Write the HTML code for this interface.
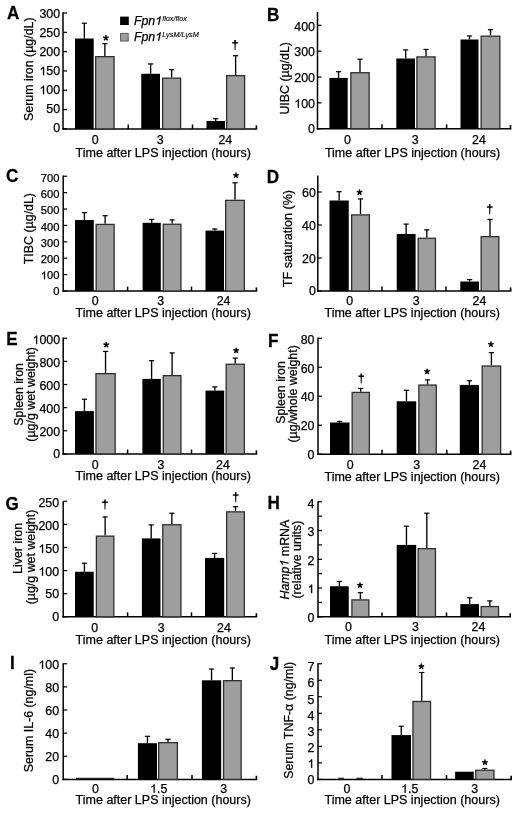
<!DOCTYPE html>
<html><head><meta charset="utf-8"><style>
html,body{margin:0;padding:0;background:#fff;}
svg{display:block;}
text{font-family:"Liberation Sans",sans-serif;fill:#000;stroke:#000;stroke-width:0.25px;}
</style></head><body>
<div style="will-change:transform"><svg width="520" height="813" viewBox="0 0 520 813">
<rect width="520" height="813" fill="#fff"/>
<line x1="63" y1="12.3" x2="63" y2="129.65" stroke="#000" stroke-width="1.5"/>
<line x1="62.25" y1="128.9" x2="257.2" y2="128.9" stroke="#000" stroke-width="1.5"/>
<line x1="256.4" y1="128.9" x2="256.4" y2="125.30000000000001" stroke="#000" stroke-width="1.6"/>
<line x1="128.25" y1="128.9" x2="128.25" y2="124.5" stroke="#000" stroke-width="1.5"/>
<line x1="192.5" y1="128.9" x2="192.5" y2="124.5" stroke="#000" stroke-width="1.5"/>
<line x1="63" y1="128.9" x2="67" y2="128.9" stroke="#000" stroke-width="1.2"/>
<text x="53.25" y="132.2" font-size="12.4">0</text>
<line x1="63" y1="109.58" x2="67" y2="109.58" stroke="#000" stroke-width="1.2"/>
<text x="46.36" y="113.2" font-size="12.4">5</text>
<text x="53.25" y="113.2" font-size="12.4">0</text>
<line x1="63" y1="90.27" x2="67" y2="90.27" stroke="#000" stroke-width="1.2"/>
<path d="M763 0H583V1098Q518 1038 412 979Q307 920 223 890V1057Q374 1125 487 1221Q600 1318 647 1409H763Z" transform="translate(39.46,94.2) scale(0.00605,-0.00605)" fill="#000" stroke="#000" stroke-width="41.3"/>
<text x="46.36" y="94.2" font-size="12.4">0</text>
<text x="53.25" y="94.2" font-size="12.4">0</text>
<line x1="63" y1="70.95" x2="67" y2="70.95" stroke="#000" stroke-width="1.2"/>
<path d="M763 0H583V1098Q518 1038 412 979Q307 920 223 890V1057Q374 1125 487 1221Q600 1318 647 1409H763Z" transform="translate(39.46,75.2) scale(0.00605,-0.00605)" fill="#000" stroke="#000" stroke-width="41.3"/>
<text x="46.36" y="75.2" font-size="12.4">5</text>
<text x="53.25" y="75.2" font-size="12.4">0</text>
<line x1="63" y1="51.63" x2="67" y2="51.63" stroke="#000" stroke-width="1.2"/>
<text x="39.46" y="56.2" font-size="12.4">2</text>
<text x="46.36" y="56.2" font-size="12.4">0</text>
<text x="53.25" y="56.2" font-size="12.4">0</text>
<line x1="63" y1="32.32" x2="67" y2="32.32" stroke="#000" stroke-width="1.2"/>
<text x="39.46" y="37.2" font-size="12.4">2</text>
<text x="46.36" y="37.2" font-size="12.4">5</text>
<text x="53.25" y="37.2" font-size="12.4">0</text>
<line x1="63" y1="13.0" x2="67" y2="13.0" stroke="#000" stroke-width="1.2"/>
<text x="39.46" y="18.2" font-size="12.4">3</text>
<text x="46.36" y="18.2" font-size="12.4">0</text>
<text x="53.25" y="18.2" font-size="12.4">0</text>
<line x1="84.35" y1="23" x2="84.35" y2="38.5" stroke="#000" stroke-width="1.35"/>
<line x1="81.75" y1="23.2" x2="86.94999999999999" y2="23.2" stroke="#000" stroke-width="1.2"/>
<rect x="75.00" y="38.50" width="18.70" height="90.40" fill="#000"/>
<line x1="104.85" y1="43.4" x2="104.85" y2="56" stroke="#000" stroke-width="1.35"/>
<line x1="102.25" y1="43.6" x2="107.44999999999999" y2="43.6" stroke="#000" stroke-width="1.2"/>
<rect x="95.65" y="56.65" width="18.40" height="72.25" fill="#9e9e9e" stroke="#2e2e2e" stroke-width="1.3"/>
<line x1="150.625" y1="63.75" x2="150.625" y2="73.75" stroke="#000" stroke-width="1.35"/>
<line x1="148.025" y1="63.95" x2="153.225" y2="63.95" stroke="#000" stroke-width="1.2"/>
<rect x="141.25" y="73.75" width="18.75" height="55.15" fill="#000"/>
<line x1="171.625" y1="69.5" x2="171.625" y2="77.5" stroke="#000" stroke-width="1.35"/>
<line x1="169.025" y1="69.7" x2="174.225" y2="69.7" stroke="#000" stroke-width="1.2"/>
<rect x="162.65" y="78.15" width="17.95" height="50.75" fill="#9e9e9e" stroke="#2e2e2e" stroke-width="1.3"/>
<line x1="215.75" y1="118.5" x2="215.75" y2="121" stroke="#000" stroke-width="1.35"/>
<line x1="213.15" y1="118.7" x2="218.35" y2="118.7" stroke="#000" stroke-width="1.2"/>
<rect x="206.50" y="121.00" width="18.50" height="7.90" fill="#000"/>
<line x1="235.625" y1="55.5" x2="235.625" y2="75" stroke="#000" stroke-width="1.35"/>
<line x1="233.025" y1="55.7" x2="238.225" y2="55.7" stroke="#000" stroke-width="1.2"/>
<rect x="226.65" y="75.65" width="17.95" height="53.25" fill="#9e9e9e" stroke="#2e2e2e" stroke-width="1.3"/>
<text x="91.75" y="143.7" font-size="12.4">0</text>
<text x="156.85" y="143.7" font-size="12.4">3</text>
<text x="218.40" y="143.7" font-size="12.4">2</text>
<text x="225.30" y="143.7" font-size="12.4">4</text>
<text x="75.6" y="156.6" font-size="12.5" text-anchor="start" font-weight="normal" font-style="normal">Time after LPS injection (hours)</text>
<text x="0" y="0" font-size="12.4" text-anchor="middle" transform="translate(33.2,69.2) rotate(-90)">Serum iron (µg/dL)</text>
<text x="0" y="0" font-size="18" font-weight="bold" transform="translate(6.9,19.2) scale(0.95,1)">A</text>
<path d="M105.85,37.85L105.85,35.50M105.85,37.85L108.08,37.12M105.85,37.85L107.23,39.75M105.85,37.85L104.47,39.75M105.85,37.85L103.62,37.12" stroke="#000" stroke-width="1.5" stroke-linecap="round" fill="none"/>
<path d="M234.30,40.05L235.90,40.05L235.55,50.05L234.65,50.05Z" fill="#000"/>
<rect x="232.20" y="42.15" width="5.8" height="1.4" fill="#000"/>
<line x1="317.5" y1="11.9" x2="317.5" y2="129.45" stroke="#000" stroke-width="1.5"/>
<line x1="316.75" y1="128.7" x2="511.3" y2="128.7" stroke="#000" stroke-width="1.5"/>
<line x1="510.5" y1="128.7" x2="510.5" y2="125.1" stroke="#000" stroke-width="1.6"/>
<line x1="382" y1="128.7" x2="382" y2="124.29999999999998" stroke="#000" stroke-width="1.5"/>
<line x1="446.6" y1="128.7" x2="446.6" y2="124.29999999999998" stroke="#000" stroke-width="1.5"/>
<line x1="317.5" y1="128.7" x2="321.5" y2="128.7" stroke="#000" stroke-width="1.2"/>
<text x="308.05" y="133.4" font-size="12.4">0</text>
<line x1="317.5" y1="102.85" x2="321.5" y2="102.85" stroke="#000" stroke-width="1.2"/>
<path d="M763 0H583V1098Q518 1038 412 979Q307 920 223 890V1057Q374 1125 487 1221Q600 1318 647 1409H763Z" transform="translate(294.26,107.71) scale(0.00605,-0.00605)" fill="#000" stroke="#000" stroke-width="41.3"/>
<text x="301.16" y="107.71" font-size="12.4">0</text>
<text x="308.05" y="107.71" font-size="12.4">0</text>
<line x1="317.5" y1="77.0" x2="321.5" y2="77.0" stroke="#000" stroke-width="1.2"/>
<text x="294.26" y="82.03" font-size="12.4">2</text>
<text x="301.16" y="82.03" font-size="12.4">0</text>
<text x="308.05" y="82.03" font-size="12.4">0</text>
<line x1="317.5" y1="51.15" x2="321.5" y2="51.15" stroke="#000" stroke-width="1.2"/>
<text x="294.26" y="56.34" font-size="12.4">3</text>
<text x="301.16" y="56.34" font-size="12.4">0</text>
<text x="308.05" y="56.34" font-size="12.4">0</text>
<line x1="317.5" y1="25.3" x2="321.5" y2="25.3" stroke="#000" stroke-width="1.2"/>
<text x="294.26" y="30.65" font-size="12.4">4</text>
<text x="301.16" y="30.65" font-size="12.4">0</text>
<text x="308.05" y="30.65" font-size="12.4">0</text>
<line x1="338.54999999999995" y1="71.5" x2="338.54999999999995" y2="77.9" stroke="#000" stroke-width="1.35"/>
<line x1="335.94999999999993" y1="71.7" x2="341.15" y2="71.7" stroke="#000" stroke-width="1.2"/>
<rect x="329.40" y="77.90" width="18.30" height="50.80" fill="#000"/>
<line x1="360.0" y1="59" x2="360.0" y2="72.1" stroke="#000" stroke-width="1.35"/>
<line x1="357.4" y1="59.2" x2="362.6" y2="59.2" stroke="#000" stroke-width="1.2"/>
<rect x="350.85" y="72.75" width="18.30" height="55.95" fill="#9e9e9e" stroke="#2e2e2e" stroke-width="1.3"/>
<line x1="405.65" y1="49.75" x2="405.65" y2="58.5" stroke="#000" stroke-width="1.35"/>
<line x1="403.04999999999995" y1="49.95" x2="408.25" y2="49.95" stroke="#000" stroke-width="1.2"/>
<rect x="396.30" y="58.50" width="18.70" height="70.20" fill="#000"/>
<line x1="426.0" y1="49.25" x2="426.0" y2="56.25" stroke="#000" stroke-width="1.35"/>
<line x1="423.4" y1="49.45" x2="428.6" y2="49.45" stroke="#000" stroke-width="1.2"/>
<rect x="416.90" y="56.90" width="18.20" height="71.80" fill="#9e9e9e" stroke="#2e2e2e" stroke-width="1.3"/>
<line x1="469.5" y1="35.75" x2="469.5" y2="39.5" stroke="#000" stroke-width="1.35"/>
<line x1="466.9" y1="35.95" x2="472.1" y2="35.95" stroke="#000" stroke-width="1.2"/>
<rect x="460.50" y="39.50" width="18.00" height="89.20" fill="#000"/>
<line x1="490.5" y1="29.5" x2="490.5" y2="35.5" stroke="#000" stroke-width="1.35"/>
<line x1="487.9" y1="29.7" x2="493.1" y2="29.7" stroke="#000" stroke-width="1.2"/>
<rect x="481.15" y="36.15" width="18.70" height="92.55" fill="#9e9e9e" stroke="#2e2e2e" stroke-width="1.3"/>
<text x="344.05" y="143.8" font-size="12.4">0</text>
<text x="411.80" y="143.8" font-size="12.4">3</text>
<text x="472.10" y="143.8" font-size="12.4">2</text>
<text x="479.00" y="143.8" font-size="12.4">4</text>
<text x="324.9" y="156.6" font-size="12.5" text-anchor="start" font-weight="normal" font-style="normal">Time after LPS injection (hours)</text>
<text x="0" y="0" font-size="12.4" text-anchor="middle" transform="translate(288.6,78.3) rotate(-90)">UIBC (µg/dL)</text>
<text x="0" y="0" font-size="18" font-weight="bold" transform="translate(267,20.6) scale(0.95,1)">B</text>
<line x1="63.2" y1="175.5" x2="63.2" y2="291.75" stroke="#000" stroke-width="1.5"/>
<line x1="62.45" y1="291.0" x2="257.2" y2="291.0" stroke="#000" stroke-width="1.5"/>
<line x1="256.4" y1="291.0" x2="256.4" y2="287.4" stroke="#000" stroke-width="1.6"/>
<line x1="127.6" y1="291.0" x2="127.6" y2="286.6" stroke="#000" stroke-width="1.5"/>
<line x1="191.5" y1="291.0" x2="191.5" y2="286.6" stroke="#000" stroke-width="1.5"/>
<line x1="63.2" y1="291.0" x2="67.2" y2="291.0" stroke="#000" stroke-width="1.2"/>
<text x="53.32" y="295.45" font-size="11.2">0</text>
<line x1="63.2" y1="274.61" x2="67.2" y2="274.61" stroke="#000" stroke-width="1.2"/>
<path d="M763 0H583V1098Q518 1038 412 979Q307 920 223 890V1057Q374 1125 487 1221Q600 1318 647 1409H763Z" transform="translate(40.86,279.25) scale(0.00547,-0.00547)" fill="#000" stroke="#000" stroke-width="45.7"/>
<text x="47.09" y="279.25" font-size="11.2">0</text>
<text x="53.32" y="279.25" font-size="11.2">0</text>
<line x1="63.2" y1="258.21" x2="67.2" y2="258.21" stroke="#000" stroke-width="1.2"/>
<text x="40.86" y="263.03" font-size="11.2">2</text>
<text x="47.09" y="263.03" font-size="11.2">0</text>
<text x="53.32" y="263.03" font-size="11.2">0</text>
<line x1="63.2" y1="241.82" x2="67.2" y2="241.82" stroke="#000" stroke-width="1.2"/>
<text x="40.86" y="246.83" font-size="11.2">3</text>
<text x="47.09" y="246.83" font-size="11.2">0</text>
<text x="53.32" y="246.83" font-size="11.2">0</text>
<line x1="63.2" y1="225.43" x2="67.2" y2="225.43" stroke="#000" stroke-width="1.2"/>
<text x="40.86" y="230.62" font-size="11.2">4</text>
<text x="47.09" y="230.62" font-size="11.2">0</text>
<text x="53.32" y="230.62" font-size="11.2">0</text>
<line x1="63.2" y1="209.04" x2="67.2" y2="209.04" stroke="#000" stroke-width="1.2"/>
<text x="40.86" y="214.42" font-size="11.2">5</text>
<text x="47.09" y="214.42" font-size="11.2">0</text>
<text x="53.32" y="214.42" font-size="11.2">0</text>
<line x1="63.2" y1="192.64" x2="67.2" y2="192.64" stroke="#000" stroke-width="1.2"/>
<text x="40.86" y="198.2" font-size="11.2">6</text>
<text x="47.09" y="198.2" font-size="11.2">0</text>
<text x="53.32" y="198.2" font-size="11.2">0</text>
<line x1="63.2" y1="176.25" x2="67.2" y2="176.25" stroke="#000" stroke-width="1.2"/>
<text x="40.86" y="182.0" font-size="11.2">7</text>
<text x="47.09" y="182.0" font-size="11.2">0</text>
<text x="53.32" y="182.0" font-size="11.2">0</text>
<line x1="84.4" y1="212.5" x2="84.4" y2="220" stroke="#000" stroke-width="1.35"/>
<line x1="81.80000000000001" y1="212.7" x2="87.0" y2="212.7" stroke="#000" stroke-width="1.2"/>
<rect x="75.00" y="220.00" width="18.80" height="71.00" fill="#000"/>
<line x1="105.15" y1="215.5" x2="105.15" y2="223.75" stroke="#000" stroke-width="1.35"/>
<line x1="102.55000000000001" y1="215.7" x2="107.75" y2="215.7" stroke="#000" stroke-width="1.2"/>
<rect x="96.15" y="224.40" width="18.00" height="66.60" fill="#9e9e9e" stroke="#2e2e2e" stroke-width="1.3"/>
<line x1="151.7" y1="219.2" x2="151.7" y2="222.8" stroke="#000" stroke-width="1.35"/>
<line x1="149.1" y1="219.39999999999998" x2="154.29999999999998" y2="219.39999999999998" stroke="#000" stroke-width="1.2"/>
<rect x="142.60" y="222.80" width="18.20" height="68.20" fill="#000"/>
<line x1="172.1" y1="219.7" x2="172.1" y2="223.6" stroke="#000" stroke-width="1.35"/>
<line x1="169.5" y1="219.89999999999998" x2="174.7" y2="219.89999999999998" stroke="#000" stroke-width="1.2"/>
<rect x="163.25" y="224.25" width="17.70" height="66.75" fill="#9e9e9e" stroke="#2e2e2e" stroke-width="1.3"/>
<line x1="214.75" y1="228.8" x2="214.75" y2="230.6" stroke="#000" stroke-width="1.35"/>
<line x1="212.15" y1="229.0" x2="217.35" y2="229.0" stroke="#000" stroke-width="1.2"/>
<rect x="205.50" y="230.60" width="18.50" height="60.40" fill="#000"/>
<line x1="235.0" y1="182.6" x2="235.0" y2="199.7" stroke="#000" stroke-width="1.35"/>
<line x1="232.4" y1="182.79999999999998" x2="237.6" y2="182.79999999999998" stroke="#000" stroke-width="1.2"/>
<rect x="225.65" y="200.35" width="18.70" height="90.65" fill="#9e9e9e" stroke="#2e2e2e" stroke-width="1.3"/>
<text x="91.75" y="304.9" font-size="12.4">0</text>
<text x="157.35" y="304.9" font-size="12.4">3</text>
<text x="216.70" y="304.9" font-size="12.4">2</text>
<text x="223.60" y="304.9" font-size="12.4">4</text>
<text x="75.6" y="317.2" font-size="12.5" text-anchor="start" font-weight="normal" font-style="normal">Time after LPS injection (hours)</text>
<text x="0" y="0" font-size="12.4" text-anchor="middle" transform="translate(32.6,228.6) rotate(-90)">TIBC (µg/dL)</text>
<text x="0" y="0" font-size="18" font-weight="bold" transform="translate(5.9,181.85) scale(0.95,1)">C</text>
<path d="M236.00,175.40L236.00,173.05M236.00,175.40L238.23,174.67M236.00,175.40L237.38,177.30M236.00,175.40L234.62,177.30M236.00,175.40L233.77,174.67" stroke="#000" stroke-width="1.5" stroke-linecap="round" fill="none"/>
<line x1="317.8" y1="175.5" x2="317.8" y2="291.75" stroke="#000" stroke-width="1.5"/>
<line x1="317.05" y1="291.0" x2="511.4" y2="291.0" stroke="#000" stroke-width="1.5"/>
<line x1="510.59999999999997" y1="291.0" x2="510.59999999999997" y2="287.4" stroke="#000" stroke-width="1.6"/>
<line x1="382" y1="291.0" x2="382" y2="286.6" stroke="#000" stroke-width="1.5"/>
<line x1="446" y1="291.0" x2="446" y2="286.6" stroke="#000" stroke-width="1.5"/>
<line x1="317.8" y1="291.0" x2="321.8" y2="291.0" stroke="#000" stroke-width="1.2"/>
<text x="308.95" y="295.45" font-size="12.4">0</text>
<line x1="317.8" y1="258.0" x2="321.8" y2="258.0" stroke="#000" stroke-width="1.2"/>
<text x="302.06" y="262.78" font-size="12.4">2</text>
<text x="308.95" y="262.78" font-size="12.4">0</text>
<line x1="317.8" y1="225.0" x2="321.8" y2="225.0" stroke="#000" stroke-width="1.2"/>
<text x="302.06" y="230.12" font-size="12.4">4</text>
<text x="308.95" y="230.12" font-size="12.4">0</text>
<line x1="317.8" y1="192.0" x2="321.8" y2="192.0" stroke="#000" stroke-width="1.2"/>
<text x="302.06" y="197.45" font-size="12.4">6</text>
<text x="308.95" y="197.45" font-size="12.4">0</text>
<line x1="339.125" y1="191.5" x2="339.125" y2="200.5" stroke="#000" stroke-width="1.35"/>
<line x1="336.525" y1="191.7" x2="341.725" y2="191.7" stroke="#000" stroke-width="1.2"/>
<rect x="329.50" y="200.50" width="19.25" height="90.50" fill="#000"/>
<line x1="360.5" y1="198.75" x2="360.5" y2="214.25" stroke="#000" stroke-width="1.35"/>
<line x1="357.9" y1="198.95" x2="363.1" y2="198.95" stroke="#000" stroke-width="1.2"/>
<rect x="351.65" y="214.90" width="17.70" height="76.10" fill="#9e9e9e" stroke="#2e2e2e" stroke-width="1.3"/>
<line x1="406.15" y1="223.9" x2="406.15" y2="234" stroke="#000" stroke-width="1.35"/>
<line x1="403.54999999999995" y1="224.1" x2="408.75" y2="224.1" stroke="#000" stroke-width="1.2"/>
<rect x="396.70" y="234.00" width="18.90" height="57.00" fill="#000"/>
<line x1="426.8" y1="229.6" x2="426.8" y2="237.6" stroke="#000" stroke-width="1.35"/>
<line x1="424.2" y1="229.79999999999998" x2="429.40000000000003" y2="229.79999999999998" stroke="#000" stroke-width="1.2"/>
<rect x="418.15" y="238.25" width="17.30" height="52.75" fill="#9e9e9e" stroke="#2e2e2e" stroke-width="1.3"/>
<line x1="469.65" y1="279.4" x2="469.65" y2="281.5" stroke="#000" stroke-width="1.35"/>
<line x1="467.04999999999995" y1="279.59999999999997" x2="472.25" y2="279.59999999999997" stroke="#000" stroke-width="1.2"/>
<rect x="460.30" y="281.50" width="18.70" height="9.50" fill="#000"/>
<line x1="490.0" y1="219.2" x2="490.0" y2="236" stroke="#000" stroke-width="1.35"/>
<line x1="487.4" y1="219.39999999999998" x2="492.6" y2="219.39999999999998" stroke="#000" stroke-width="1.2"/>
<rect x="481.15" y="236.65" width="17.70" height="54.35" fill="#9e9e9e" stroke="#2e2e2e" stroke-width="1.3"/>
<text x="346.15" y="305" font-size="12.4">0</text>
<text x="412.65" y="305" font-size="12.4">3</text>
<text x="472.60" y="305" font-size="12.4">2</text>
<text x="479.50" y="305" font-size="12.4">4</text>
<text x="324.5" y="316.8" font-size="12.5" text-anchor="start" font-weight="normal" font-style="normal">Time after LPS injection (hours)</text>
<text x="0" y="0" font-size="12.6" text-anchor="middle" transform="translate(292.0,238.6) rotate(-90)">TF saturation (%)</text>
<text x="0" y="0" font-size="18" font-weight="bold" transform="translate(266.8,183.2) scale(0.95,1)">D</text>
<path d="M359.50,192.30L359.50,189.95M359.50,192.30L361.73,191.57M359.50,192.30L360.88,194.20M359.50,192.30L358.12,194.20M359.50,192.30L357.27,191.57" stroke="#000" stroke-width="1.5" stroke-linecap="round" fill="none"/>
<path d="M488.95,204.25L490.55,204.25L490.20,214.25L489.30,214.25Z" fill="#000"/>
<rect x="486.85" y="206.35" width="5.8" height="1.4" fill="#000"/>
<line x1="63.2" y1="337.5" x2="63.2" y2="454.65" stroke="#000" stroke-width="1.5"/>
<line x1="62.45" y1="453.9" x2="257.2" y2="453.9" stroke="#000" stroke-width="1.5"/>
<line x1="256.4" y1="453.9" x2="256.4" y2="450.29999999999995" stroke="#000" stroke-width="1.6"/>
<line x1="127.6" y1="453.9" x2="127.6" y2="449.5" stroke="#000" stroke-width="1.5"/>
<line x1="191.5" y1="453.9" x2="191.5" y2="449.5" stroke="#000" stroke-width="1.5"/>
<line x1="63.2" y1="453.9" x2="67.2" y2="453.9" stroke="#000" stroke-width="1.2"/>
<text x="53.25" y="458.45" font-size="12.4">0</text>
<line x1="63.2" y1="430.77" x2="67.2" y2="430.77" stroke="#000" stroke-width="1.2"/>
<text x="39.46" y="435.56" font-size="12.4">2</text>
<text x="46.36" y="435.56" font-size="12.4">0</text>
<text x="53.25" y="435.56" font-size="12.4">0</text>
<line x1="63.2" y1="407.64" x2="67.2" y2="407.64" stroke="#000" stroke-width="1.2"/>
<text x="39.46" y="412.67" font-size="12.4">4</text>
<text x="46.36" y="412.67" font-size="12.4">0</text>
<text x="53.25" y="412.67" font-size="12.4">0</text>
<line x1="63.2" y1="384.51" x2="67.2" y2="384.51" stroke="#000" stroke-width="1.2"/>
<text x="39.46" y="389.78" font-size="12.4">6</text>
<text x="46.36" y="389.78" font-size="12.4">0</text>
<text x="53.25" y="389.78" font-size="12.4">0</text>
<line x1="63.2" y1="361.38" x2="67.2" y2="361.38" stroke="#000" stroke-width="1.2"/>
<text x="39.46" y="366.89" font-size="12.4">8</text>
<text x="46.36" y="366.89" font-size="12.4">0</text>
<text x="53.25" y="366.89" font-size="12.4">0</text>
<line x1="63.2" y1="338.25" x2="67.2" y2="338.25" stroke="#000" stroke-width="1.2"/>
<path d="M763 0H583V1098Q518 1038 412 979Q307 920 223 890V1057Q374 1125 487 1221Q600 1318 647 1409H763Z" transform="translate(32.56,344.0) scale(0.00605,-0.00605)" fill="#000" stroke="#000" stroke-width="41.3"/>
<text x="39.46" y="344.0" font-size="12.4">0</text>
<text x="46.36" y="344.0" font-size="12.4">0</text>
<text x="53.25" y="344.0" font-size="12.4">0</text>
<line x1="84.45" y1="399" x2="84.45" y2="411.1" stroke="#000" stroke-width="1.35"/>
<line x1="81.85000000000001" y1="399.2" x2="87.05" y2="399.2" stroke="#000" stroke-width="1.2"/>
<rect x="75.00" y="411.10" width="18.90" height="42.80" fill="#000"/>
<line x1="105.55" y1="351.25" x2="105.55" y2="373" stroke="#000" stroke-width="1.35"/>
<line x1="102.95" y1="351.45" x2="108.14999999999999" y2="351.45" stroke="#000" stroke-width="1.2"/>
<rect x="95.95" y="373.65" width="19.20" height="80.25" fill="#9e9e9e" stroke="#2e2e2e" stroke-width="1.3"/>
<line x1="151.60000000000002" y1="360.5" x2="151.60000000000002" y2="378.9" stroke="#000" stroke-width="1.35"/>
<line x1="149.00000000000003" y1="360.7" x2="154.20000000000002" y2="360.7" stroke="#000" stroke-width="1.2"/>
<rect x="142.40" y="378.90" width="18.40" height="75.00" fill="#000"/>
<line x1="172.1" y1="352.7" x2="172.1" y2="375" stroke="#000" stroke-width="1.35"/>
<line x1="169.5" y1="352.9" x2="174.7" y2="352.9" stroke="#000" stroke-width="1.2"/>
<rect x="163.25" y="375.65" width="17.70" height="78.25" fill="#9e9e9e" stroke="#2e2e2e" stroke-width="1.3"/>
<line x1="214.85" y1="386.7" x2="214.85" y2="390.6" stroke="#000" stroke-width="1.35"/>
<line x1="212.25" y1="386.9" x2="217.45" y2="386.9" stroke="#000" stroke-width="1.2"/>
<rect x="205.50" y="390.60" width="18.70" height="63.30" fill="#000"/>
<line x1="235.25" y1="357.9" x2="235.25" y2="363.6" stroke="#000" stroke-width="1.35"/>
<line x1="232.65" y1="358.09999999999997" x2="237.85" y2="358.09999999999997" stroke="#000" stroke-width="1.2"/>
<rect x="226.15" y="364.25" width="18.20" height="89.65" fill="#9e9e9e" stroke="#2e2e2e" stroke-width="1.3"/>
<text x="91.75" y="468.5" font-size="12.4">0</text>
<text x="157.55" y="468.5" font-size="12.4">3</text>
<text x="216.10" y="468.5" font-size="12.4">2</text>
<text x="223.00" y="468.5" font-size="12.4">4</text>
<text x="75.6" y="479.6" font-size="12.5" text-anchor="start" font-weight="normal" font-style="normal">Time after LPS injection (hours)</text>
<text x="0" y="0" font-size="12.4" text-anchor="middle" transform="translate(23.0,394.4) rotate(-90)">Spleen iron</text>
<text x="0" y="0" font-size="12.4" text-anchor="middle" transform="translate(34.6,394.4) rotate(-90)">(µg/g wet weight)</text>
<text x="0" y="0" font-size="18" font-weight="bold" transform="translate(6.2,345.45) scale(0.95,1)">E</text>
<path d="M106.25,344.80L106.25,342.45M106.25,344.80L108.48,344.07M106.25,344.80L107.63,346.70M106.25,344.80L104.87,346.70M106.25,344.80L104.02,344.07" stroke="#000" stroke-width="1.5" stroke-linecap="round" fill="none"/>
<path d="M236.10,350.55L236.10,348.20M236.10,350.55L238.33,349.82M236.10,350.55L237.48,352.45M236.10,350.55L234.72,352.45M236.10,350.55L233.87,349.82" stroke="#000" stroke-width="1.5" stroke-linecap="round" fill="none"/>
<line x1="318" y1="337.5" x2="318" y2="454.95" stroke="#000" stroke-width="1.5"/>
<line x1="317.25" y1="454.2" x2="511.4" y2="454.2" stroke="#000" stroke-width="1.5"/>
<line x1="510.59999999999997" y1="454.2" x2="510.59999999999997" y2="450.59999999999997" stroke="#000" stroke-width="1.6"/>
<line x1="382" y1="454.2" x2="382" y2="449.8" stroke="#000" stroke-width="1.5"/>
<line x1="446.8" y1="454.2" x2="446.8" y2="449.8" stroke="#000" stroke-width="1.5"/>
<line x1="318" y1="454.2" x2="322" y2="454.2" stroke="#000" stroke-width="1.2"/>
<text x="307.55" y="458.65" font-size="12.4">0</text>
<line x1="318" y1="425.21" x2="322" y2="425.21" stroke="#000" stroke-width="1.2"/>
<text x="300.66" y="430.04" font-size="12.4">2</text>
<text x="307.55" y="430.04" font-size="12.4">0</text>
<line x1="318" y1="396.22" x2="322" y2="396.22" stroke="#000" stroke-width="1.2"/>
<text x="300.66" y="401.42" font-size="12.4">4</text>
<text x="307.55" y="401.42" font-size="12.4">0</text>
<line x1="318" y1="367.24" x2="322" y2="367.24" stroke="#000" stroke-width="1.2"/>
<text x="300.66" y="372.81" font-size="12.4">6</text>
<text x="307.55" y="372.81" font-size="12.4">0</text>
<line x1="318" y1="338.25" x2="322" y2="338.25" stroke="#000" stroke-width="1.2"/>
<text x="300.66" y="344.2" font-size="12.4">8</text>
<text x="307.55" y="344.2" font-size="12.4">0</text>
<line x1="339.75" y1="421.25" x2="339.75" y2="422.5" stroke="#000" stroke-width="1.35"/>
<line x1="337.15" y1="421.45" x2="342.35" y2="421.45" stroke="#000" stroke-width="1.2"/>
<rect x="330.00" y="422.50" width="19.50" height="31.70" fill="#000"/>
<line x1="360.75" y1="388.25" x2="360.75" y2="391.75" stroke="#000" stroke-width="1.35"/>
<line x1="358.15" y1="388.45" x2="363.35" y2="388.45" stroke="#000" stroke-width="1.2"/>
<rect x="352.15" y="392.40" width="17.20" height="61.80" fill="#9e9e9e" stroke="#2e2e2e" stroke-width="1.3"/>
<line x1="406.45" y1="390.1" x2="406.45" y2="401.3" stroke="#000" stroke-width="1.35"/>
<line x1="403.84999999999997" y1="390.3" x2="409.05" y2="390.3" stroke="#000" stroke-width="1.2"/>
<rect x="396.70" y="401.30" width="19.50" height="52.90" fill="#000"/>
<line x1="427.54999999999995" y1="379.7" x2="427.54999999999995" y2="384.4" stroke="#000" stroke-width="1.35"/>
<line x1="424.94999999999993" y1="379.9" x2="430.15" y2="379.9" stroke="#000" stroke-width="1.2"/>
<rect x="418.85" y="385.05" width="17.40" height="69.15" fill="#9e9e9e" stroke="#2e2e2e" stroke-width="1.3"/>
<line x1="469.4" y1="380.5" x2="469.4" y2="384.9" stroke="#000" stroke-width="1.35"/>
<line x1="466.79999999999995" y1="380.7" x2="472.0" y2="380.7" stroke="#000" stroke-width="1.2"/>
<rect x="459.80" y="384.90" width="19.20" height="69.30" fill="#000"/>
<line x1="491.4" y1="352.5" x2="491.4" y2="365.4" stroke="#000" stroke-width="1.35"/>
<line x1="488.79999999999995" y1="352.7" x2="494.0" y2="352.7" stroke="#000" stroke-width="1.2"/>
<rect x="482.15" y="366.05" width="18.50" height="88.15" fill="#9e9e9e" stroke="#2e2e2e" stroke-width="1.3"/>
<text x="346.75" y="468.5" font-size="12.4">0</text>
<text x="413.35" y="468.5" font-size="12.4">3</text>
<text x="472.60" y="468.5" font-size="12.4">2</text>
<text x="479.50" y="468.5" font-size="12.4">4</text>
<text x="324.5" y="480.5" font-size="12.5" text-anchor="start" font-weight="normal" font-style="normal">Time after LPS injection (hours)</text>
<text x="0" y="0" font-size="12.4" text-anchor="middle" transform="translate(284.5,392.5) rotate(-90)">Spleen iron</text>
<text x="0" y="0" font-size="12.4" text-anchor="middle" transform="translate(296.9,393.9) rotate(-90)">(µg/whole weight)</text>
<text x="0" y="0" font-size="18" font-weight="bold" transform="translate(267.9,346.5) scale(0.95,1)">F</text>
<path d="M360.45,373.40L362.05,373.40L361.70,383.40L360.80,383.40Z" fill="#000"/>
<rect x="358.35" y="375.50" width="5.8" height="1.4" fill="#000"/>
<path d="M427.10,371.55L427.10,369.20M427.10,371.55L429.33,370.82M427.10,371.55L428.48,373.45M427.10,371.55L425.72,373.45M427.10,371.55L424.87,370.82" stroke="#000" stroke-width="1.5" stroke-linecap="round" fill="none"/>
<path d="M490.90,344.35L490.90,342.00M490.90,344.35L493.13,343.62M490.90,344.35L492.28,346.25M490.90,344.35L489.52,346.25M490.90,344.35L488.67,343.62" stroke="#000" stroke-width="1.5" stroke-linecap="round" fill="none"/>
<line x1="63.2" y1="501.25" x2="63.2" y2="617.55" stroke="#000" stroke-width="1.5"/>
<line x1="62.45" y1="616.8" x2="257.2" y2="616.8" stroke="#000" stroke-width="1.5"/>
<line x1="256.4" y1="616.8" x2="256.4" y2="613.1999999999999" stroke="#000" stroke-width="1.6"/>
<line x1="127.6" y1="616.8" x2="127.6" y2="612.4" stroke="#000" stroke-width="1.5"/>
<line x1="191.5" y1="616.8" x2="191.5" y2="612.4" stroke="#000" stroke-width="1.5"/>
<line x1="63.2" y1="616.8" x2="67.2" y2="616.8" stroke="#000" stroke-width="1.2"/>
<text x="52.25" y="621.25" font-size="12.4">0</text>
<line x1="63.2" y1="593.69" x2="67.2" y2="593.69" stroke="#000" stroke-width="1.2"/>
<text x="45.36" y="598.46" font-size="12.4">5</text>
<text x="52.25" y="598.46" font-size="12.4">0</text>
<line x1="63.2" y1="570.58" x2="67.2" y2="570.58" stroke="#000" stroke-width="1.2"/>
<path d="M763 0H583V1098Q518 1038 412 979Q307 920 223 890V1057Q374 1125 487 1221Q600 1318 647 1409H763Z" transform="translate(38.46,575.67) scale(0.00605,-0.00605)" fill="#000" stroke="#000" stroke-width="41.3"/>
<text x="45.36" y="575.67" font-size="12.4">0</text>
<text x="52.25" y="575.67" font-size="12.4">0</text>
<line x1="63.2" y1="547.47" x2="67.2" y2="547.47" stroke="#000" stroke-width="1.2"/>
<path d="M763 0H583V1098Q518 1038 412 979Q307 920 223 890V1057Q374 1125 487 1221Q600 1318 647 1409H763Z" transform="translate(38.46,552.88) scale(0.00605,-0.00605)" fill="#000" stroke="#000" stroke-width="41.3"/>
<text x="45.36" y="552.88" font-size="12.4">5</text>
<text x="52.25" y="552.88" font-size="12.4">0</text>
<line x1="63.2" y1="524.36" x2="67.2" y2="524.36" stroke="#000" stroke-width="1.2"/>
<text x="38.46" y="530.09" font-size="12.4">2</text>
<text x="45.36" y="530.09" font-size="12.4">0</text>
<text x="52.25" y="530.09" font-size="12.4">0</text>
<line x1="63.2" y1="501.25" x2="67.2" y2="501.25" stroke="#000" stroke-width="1.2"/>
<text x="38.46" y="507.3" font-size="12.4">2</text>
<text x="45.36" y="507.3" font-size="12.4">5</text>
<text x="52.25" y="507.3" font-size="12.4">0</text>
<line x1="84.375" y1="563" x2="84.375" y2="571.75" stroke="#000" stroke-width="1.35"/>
<line x1="81.775" y1="563.2" x2="86.975" y2="563.2" stroke="#000" stroke-width="1.2"/>
<rect x="75.00" y="571.75" width="18.75" height="45.05" fill="#000"/>
<line x1="105.125" y1="516.75" x2="105.125" y2="535.5" stroke="#000" stroke-width="1.35"/>
<line x1="102.525" y1="516.95" x2="107.725" y2="516.95" stroke="#000" stroke-width="1.2"/>
<rect x="96.40" y="536.15" width="17.45" height="80.65" fill="#9e9e9e" stroke="#2e2e2e" stroke-width="1.3"/>
<line x1="151.2" y1="524.7" x2="151.2" y2="538.4" stroke="#000" stroke-width="1.35"/>
<line x1="148.6" y1="524.9000000000001" x2="153.79999999999998" y2="524.9000000000001" stroke="#000" stroke-width="1.2"/>
<rect x="141.90" y="538.40" width="18.60" height="78.40" fill="#000"/>
<line x1="171.85" y1="513" x2="171.85" y2="524.1" stroke="#000" stroke-width="1.35"/>
<line x1="169.25" y1="513.2" x2="174.45" y2="513.2" stroke="#000" stroke-width="1.2"/>
<rect x="162.75" y="524.75" width="18.20" height="92.05" fill="#9e9e9e" stroke="#2e2e2e" stroke-width="1.3"/>
<line x1="214.6" y1="553.2" x2="214.6" y2="557.9" stroke="#000" stroke-width="1.35"/>
<line x1="212.0" y1="553.4000000000001" x2="217.2" y2="553.4000000000001" stroke="#000" stroke-width="1.2"/>
<rect x="205.00" y="557.90" width="19.20" height="58.90" fill="#000"/>
<line x1="235.5" y1="506.5" x2="235.5" y2="511.2" stroke="#000" stroke-width="1.35"/>
<line x1="232.9" y1="506.7" x2="238.1" y2="506.7" stroke="#000" stroke-width="1.2"/>
<rect x="226.65" y="511.85" width="17.70" height="104.95" fill="#9e9e9e" stroke="#2e2e2e" stroke-width="1.3"/>
<text x="91.35" y="631.6" font-size="12.4">0</text>
<text x="157.85" y="631.6" font-size="12.4">3</text>
<text x="217.10" y="631.6" font-size="12.4">2</text>
<text x="224.00" y="631.6" font-size="12.4">4</text>
<text x="75.6" y="644.2" font-size="12.5" text-anchor="start" font-weight="normal" font-style="normal">Time after LPS injection (hours)</text>
<text x="0" y="0" font-size="12.4" text-anchor="middle" transform="translate(22.0,548.4) rotate(-90)">Liver iron</text>
<text x="0" y="0" font-size="12.4" text-anchor="middle" transform="translate(34.6,557.0) rotate(-90)">(µg/g wet weight)</text>
<text x="0" y="0" font-size="18" font-weight="bold" transform="translate(5.6,509.6) scale(0.95,1)">G</text>
<path d="M104.20,499.40L105.80,499.40L105.45,509.40L104.55,509.40Z" fill="#000"/>
<rect x="102.10" y="501.50" width="5.8" height="1.4" fill="#000"/>
<path d="M234.95,492.25L236.55,492.25L236.20,502.25L235.30,502.25Z" fill="#000"/>
<rect x="232.85" y="494.35" width="5.8" height="1.4" fill="#000"/>
<line x1="318" y1="501.25" x2="318" y2="617.55" stroke="#000" stroke-width="1.5"/>
<line x1="317.25" y1="616.8" x2="511" y2="616.8" stroke="#000" stroke-width="1.5"/>
<line x1="510.2" y1="616.8" x2="510.2" y2="613.1999999999999" stroke="#000" stroke-width="1.6"/>
<line x1="382" y1="616.8" x2="382" y2="612.4" stroke="#000" stroke-width="1.5"/>
<line x1="446.5" y1="616.8" x2="446.5" y2="612.4" stroke="#000" stroke-width="1.5"/>
<line x1="318" y1="616.8" x2="322" y2="616.8" stroke="#000" stroke-width="1.2"/>
<text x="307.55" y="621.55" font-size="12.4">0</text>
<line x1="318" y1="602.42" x2="322" y2="602.42" stroke="#000" stroke-width="1.2"/>
<line x1="318" y1="588.05" x2="322" y2="588.05" stroke="#000" stroke-width="1.2"/>
<path d="M763 0H583V1098Q518 1038 412 979Q307 920 223 890V1057Q374 1125 487 1221Q600 1318 647 1409H763Z" transform="translate(307.55,593.1) scale(0.00605,-0.00605)" fill="#000" stroke="#000" stroke-width="41.3"/>
<line x1="318" y1="573.67" x2="322" y2="573.67" stroke="#000" stroke-width="1.2"/>
<line x1="318" y1="559.3" x2="322" y2="559.3" stroke="#000" stroke-width="1.2"/>
<text x="307.55" y="564.65" font-size="12.4">2</text>
<line x1="318" y1="544.92" x2="322" y2="544.92" stroke="#000" stroke-width="1.2"/>
<line x1="318" y1="530.55" x2="322" y2="530.55" stroke="#000" stroke-width="1.2"/>
<text x="307.55" y="536.2" font-size="12.4">3</text>
<line x1="318" y1="516.17" x2="322" y2="516.17" stroke="#000" stroke-width="1.2"/>
<line x1="318" y1="501.8" x2="322" y2="501.8" stroke="#000" stroke-width="1.2"/>
<text x="307.55" y="507.75" font-size="12.4">4</text>
<line x1="339.375" y1="581.25" x2="339.375" y2="586.25" stroke="#000" stroke-width="1.35"/>
<line x1="336.775" y1="581.45" x2="341.975" y2="581.45" stroke="#000" stroke-width="1.2"/>
<rect x="330.00" y="586.25" width="18.75" height="30.55" fill="#000"/>
<line x1="360.375" y1="592.5" x2="360.375" y2="599.25" stroke="#000" stroke-width="1.35"/>
<line x1="357.775" y1="592.7" x2="362.975" y2="592.7" stroke="#000" stroke-width="1.2"/>
<rect x="351.90" y="599.90" width="16.95" height="16.90" fill="#9e9e9e" stroke="#2e2e2e" stroke-width="1.3"/>
<line x1="406.45" y1="526" x2="406.45" y2="544.9" stroke="#000" stroke-width="1.35"/>
<line x1="403.84999999999997" y1="526.2" x2="409.05" y2="526.2" stroke="#000" stroke-width="1.2"/>
<rect x="396.70" y="544.90" width="19.50" height="71.90" fill="#000"/>
<line x1="426.8" y1="513" x2="426.8" y2="548" stroke="#000" stroke-width="1.35"/>
<line x1="424.2" y1="513.2" x2="429.40000000000003" y2="513.2" stroke="#000" stroke-width="1.2"/>
<rect x="418.15" y="548.65" width="17.30" height="68.15" fill="#9e9e9e" stroke="#2e2e2e" stroke-width="1.3"/>
<line x1="469.65" y1="597.6" x2="469.65" y2="604.1" stroke="#000" stroke-width="1.35"/>
<line x1="467.04999999999995" y1="597.8000000000001" x2="472.25" y2="597.8000000000001" stroke="#000" stroke-width="1.2"/>
<rect x="460.30" y="604.10" width="18.70" height="12.70" fill="#000"/>
<line x1="489.85" y1="600.7" x2="489.85" y2="605.9" stroke="#000" stroke-width="1.35"/>
<line x1="487.25" y1="600.9000000000001" x2="492.45000000000005" y2="600.9000000000001" stroke="#000" stroke-width="1.2"/>
<rect x="481.15" y="606.55" width="17.40" height="10.25" fill="#9e9e9e" stroke="#2e2e2e" stroke-width="1.3"/>
<text x="345.05" y="631.2" font-size="12.4">0</text>
<text x="412.05" y="631.2" font-size="12.4">3</text>
<text x="471.60" y="631.2" font-size="12.4">2</text>
<text x="478.50" y="631.2" font-size="12.4">4</text>
<text x="324.5" y="643.7" font-size="12.5" text-anchor="start" font-weight="normal" font-style="normal">Time after LPS injection (hours)</text>
<text x="0" y="0" font-size="12.4" text-anchor="middle" transform="translate(300.9,559.6) rotate(-90)">(relative units)</text>
<g transform="translate(288.5,559.6) rotate(-90)"><text x="-39.96" y="0" font-size="12.4" font-style="italic">Hamp</text><path d="M763 0H583V1098Q518 1038 412 979Q307 920 223 890V1057Q374 1125 487 1221Q600 1318 647 1409H763Z" transform="translate(-7.69,0) skewX(-12) scale(0.00605,-0.00605)" fill="#000" stroke="#000" stroke-width="41.3"/><text x="0.01" y="0" font-size="12.4" xml:space="preserve"> mRNA</text></g>
<text x="0" y="0" font-size="18" font-weight="bold" transform="translate(267.4,508.7) scale(0.95,1)">H</text>
<path d="M360.00,585.30L360.00,582.95M360.00,585.30L362.23,584.57M360.00,585.30L361.38,587.20M360.00,585.30L358.62,587.20M360.00,585.30L357.77,584.57" stroke="#000" stroke-width="1.5" stroke-linecap="round" fill="none"/>
<line x1="63.2" y1="663.25" x2="63.2" y2="780.15" stroke="#000" stroke-width="1.5"/>
<line x1="62.45" y1="779.4" x2="257.2" y2="779.4" stroke="#000" stroke-width="1.5"/>
<line x1="256.4" y1="779.4" x2="256.4" y2="775.8" stroke="#000" stroke-width="1.6"/>
<line x1="127.2" y1="779.4" x2="127.2" y2="775.0" stroke="#000" stroke-width="1.5"/>
<line x1="192" y1="779.4" x2="192" y2="775.0" stroke="#000" stroke-width="1.5"/>
<line x1="63.2" y1="779.4" x2="67.2" y2="779.4" stroke="#000" stroke-width="1.2"/>
<text x="52.25" y="783.85" font-size="12.4">0</text>
<line x1="63.2" y1="756.27" x2="67.2" y2="756.27" stroke="#000" stroke-width="1.2"/>
<text x="45.36" y="760.88" font-size="12.4">2</text>
<text x="52.25" y="760.88" font-size="12.4">0</text>
<line x1="63.2" y1="733.14" x2="67.2" y2="733.14" stroke="#000" stroke-width="1.2"/>
<text x="45.36" y="737.91" font-size="12.4">4</text>
<text x="52.25" y="737.91" font-size="12.4">0</text>
<line x1="63.2" y1="710.01" x2="67.2" y2="710.01" stroke="#000" stroke-width="1.2"/>
<text x="45.36" y="714.94" font-size="12.4">6</text>
<text x="52.25" y="714.94" font-size="12.4">0</text>
<line x1="63.2" y1="686.88" x2="67.2" y2="686.88" stroke="#000" stroke-width="1.2"/>
<text x="45.36" y="691.97" font-size="12.4">8</text>
<text x="52.25" y="691.97" font-size="12.4">0</text>
<line x1="63.2" y1="663.75" x2="67.2" y2="663.75" stroke="#000" stroke-width="1.2"/>
<path d="M763 0H583V1098Q518 1038 412 979Q307 920 223 890V1057Q374 1125 487 1221Q600 1318 647 1409H763Z" transform="translate(38.46,669.0) scale(0.00605,-0.00605)" fill="#000" stroke="#000" stroke-width="41.3"/>
<text x="45.36" y="669.0" font-size="12.4">0</text>
<text x="52.25" y="669.0" font-size="12.4">0</text>
<line x1="76" y1="778.3" x2="114" y2="778.3" stroke="#000" stroke-width="1.0"/>
<line x1="147.45" y1="736.1" x2="147.45" y2="743.2" stroke="#000" stroke-width="1.35"/>
<line x1="144.85" y1="736.3000000000001" x2="150.04999999999998" y2="736.3000000000001" stroke="#000" stroke-width="1.2"/>
<rect x="137.90" y="743.20" width="19.10" height="36.20" fill="#000"/>
<line x1="168.0" y1="739.1" x2="168.0" y2="742" stroke="#000" stroke-width="1.35"/>
<line x1="165.4" y1="739.3000000000001" x2="170.6" y2="739.3000000000001" stroke="#000" stroke-width="1.2"/>
<rect x="158.65" y="742.65" width="18.70" height="36.75" fill="#9e9e9e" stroke="#2e2e2e" stroke-width="1.3"/>
<line x1="211.55" y1="668.9" x2="211.55" y2="680.3" stroke="#000" stroke-width="1.35"/>
<line x1="208.95000000000002" y1="669.1" x2="214.15" y2="669.1" stroke="#000" stroke-width="1.2"/>
<rect x="201.90" y="680.30" width="19.30" height="99.10" fill="#000"/>
<line x1="232.35000000000002" y1="667.8" x2="232.35000000000002" y2="680" stroke="#000" stroke-width="1.35"/>
<line x1="229.75000000000003" y1="668.0" x2="234.95000000000002" y2="668.0" stroke="#000" stroke-width="1.2"/>
<rect x="223.55" y="680.65" width="17.60" height="98.75" fill="#9e9e9e" stroke="#2e2e2e" stroke-width="1.3"/>
<text x="92.05" y="792.8" font-size="12.4">0</text>
<path d="M763 0H583V1098Q518 1038 412 979Q307 920 223 890V1057Q374 1125 487 1221Q600 1318 647 1409H763Z" transform="translate(150.08,792.8) scale(0.00605,-0.00605)" fill="#000" stroke="#000" stroke-width="41.3"/>
<text x="156.98" y="792.8" font-size="12.4">.</text>
<text x="160.42" y="792.8" font-size="12.4">5</text>
<text x="220.15" y="792.8" font-size="12.4">3</text>
<text x="75.6" y="804.1" font-size="12.5" text-anchor="start" font-weight="normal" font-style="normal">Time after LPS injection (hours)</text>
<text x="0" y="0" font-size="12.4" text-anchor="middle" transform="translate(32.6,720.6) rotate(-90)">Serum IL-6 (ng/ml)</text>
<text x="0" y="0" font-size="18" font-weight="bold" transform="translate(10,669.45) scale(0.95,1)">I</text>
<line x1="318" y1="663.25" x2="318" y2="780.15" stroke="#000" stroke-width="1.5"/>
<line x1="317.25" y1="779.4" x2="512" y2="779.4" stroke="#000" stroke-width="1.5"/>
<line x1="511.2" y1="779.4" x2="511.2" y2="775.8" stroke="#000" stroke-width="1.6"/>
<line x1="382" y1="779.4" x2="382" y2="775.0" stroke="#000" stroke-width="1.5"/>
<line x1="446.5" y1="779.4" x2="446.5" y2="775.0" stroke="#000" stroke-width="1.5"/>
<line x1="318" y1="779.4" x2="322" y2="779.4" stroke="#000" stroke-width="1.2"/>
<text x="307.55" y="783.85" font-size="12.4">0</text>
<line x1="318" y1="762.88" x2="322" y2="762.88" stroke="#000" stroke-width="1.2"/>
<path d="M763 0H583V1098Q518 1038 412 979Q307 920 223 890V1057Q374 1125 487 1221Q600 1318 647 1409H763Z" transform="translate(307.55,767.79) scale(0.00605,-0.00605)" fill="#000" stroke="#000" stroke-width="41.3"/>
<line x1="318" y1="746.36" x2="322" y2="746.36" stroke="#000" stroke-width="1.2"/>
<text x="307.55" y="751.72" font-size="12.4">2</text>
<line x1="318" y1="729.84" x2="322" y2="729.84" stroke="#000" stroke-width="1.2"/>
<text x="307.55" y="735.66" font-size="12.4">3</text>
<line x1="318" y1="713.31" x2="322" y2="713.31" stroke="#000" stroke-width="1.2"/>
<text x="307.55" y="719.59" font-size="12.4">4</text>
<line x1="318" y1="696.79" x2="322" y2="696.79" stroke="#000" stroke-width="1.2"/>
<text x="307.55" y="703.53" font-size="12.4">5</text>
<line x1="318" y1="680.27" x2="322" y2="680.27" stroke="#000" stroke-width="1.2"/>
<text x="307.55" y="687.46" font-size="12.4">6</text>
<line x1="318" y1="663.75" x2="322" y2="663.75" stroke="#000" stroke-width="1.2"/>
<text x="307.55" y="671.4" font-size="12.4">7</text>
<line x1="338.3" y1="778.2" x2="343.8" y2="778.2" stroke="#000" stroke-width="1.0"/>
<line x1="356.3" y1="778.2" x2="362.8" y2="778.2" stroke="#000" stroke-width="1.0"/>
<line x1="401.25" y1="726" x2="401.25" y2="735.1" stroke="#000" stroke-width="1.35"/>
<line x1="398.65" y1="726.2" x2="403.85" y2="726.2" stroke="#000" stroke-width="1.2"/>
<rect x="391.50" y="735.10" width="19.50" height="44.30" fill="#000"/>
<line x1="421.75" y1="672.3" x2="421.75" y2="700.8" stroke="#000" stroke-width="1.35"/>
<line x1="419.15" y1="672.5" x2="424.35" y2="672.5" stroke="#000" stroke-width="1.2"/>
<rect x="412.95" y="701.45" width="17.60" height="77.95" fill="#9e9e9e" stroke="#2e2e2e" stroke-width="1.3"/>
<rect x="455.10" y="771.70" width="18.70" height="7.70" fill="#000"/>
<line x1="484.85" y1="768.3" x2="484.85" y2="769.6" stroke="#000" stroke-width="1.35"/>
<line x1="482.25" y1="768.5" x2="487.45000000000005" y2="768.5" stroke="#000" stroke-width="1.2"/>
<rect x="475.75" y="770.25" width="18.20" height="9.15" fill="#9e9e9e" stroke="#2e2e2e" stroke-width="1.3"/>
<text x="343.45" y="792.8" font-size="12.4">0</text>
<path d="M763 0H583V1098Q518 1038 412 979Q307 920 223 890V1057Q374 1125 487 1221Q600 1318 647 1409H763Z" transform="translate(401.08,792.8) scale(0.00605,-0.00605)" fill="#000" stroke="#000" stroke-width="41.3"/>
<text x="407.98" y="792.8" font-size="12.4">.</text>
<text x="411.42" y="792.8" font-size="12.4">5</text>
<text x="471.15" y="792.8" font-size="12.4">3</text>
<text x="324.5" y="804.3" font-size="12.5" text-anchor="start" font-weight="normal" font-style="normal">Time after LPS injection (hours)</text>
<text x="0" y="0" font-size="12.4" text-anchor="middle" transform="translate(292.6,720.3) rotate(-90)">Serum TNF-α (ng/ml)</text>
<text x="0" y="0" font-size="18" font-weight="bold" transform="translate(269.7,669.6) scale(0.95,1)">J</text>
<path d="M421.35,666.45L421.35,664.10M421.35,666.45L423.58,665.72M421.35,666.45L422.73,668.35M421.35,666.45L419.97,668.35M421.35,666.45L419.12,665.72" stroke="#000" stroke-width="1.5" stroke-linecap="round" fill="none"/>
<path d="M484.95,762.40L484.95,760.05M484.95,762.40L487.18,761.67M484.95,762.40L486.33,764.30M484.95,762.40L483.57,764.30M484.95,762.40L482.72,761.67" stroke="#000" stroke-width="1.5" stroke-linecap="round" fill="none"/>
<rect x="120.10" y="16.60" width="8.70" height="8.40" fill="#000"/>
<rect x="120.60" y="33.40" width="7.60" height="7.60" fill="#9e9e9e" stroke="#5a5a5a" stroke-width="1"/>
<text x="133.9" y="24.8" font-size="12.4" font-style="italic">Fpn</text>
<path d="M763 0H583V1098Q518 1038 412 979Q307 920 223 890V1057Q374 1125 487 1221Q600 1318 647 1409H763Z" transform="translate(154.47,24.8) skewX(-12) scale(0.00605,-0.00605)" fill="#000" stroke="#000" stroke-width="41.3"/>
<text x="162.16" y="20.50" font-size="7.3" font-style="italic" style="stroke-width:0.12px">flox/flox</text>
<text x="133.9" y="40.8" font-size="12.4" font-style="italic">Fpn</text>
<path d="M763 0H583V1098Q518 1038 412 979Q307 920 223 890V1057Q374 1125 487 1221Q600 1318 647 1409H763Z" transform="translate(154.47,40.8) skewX(-12) scale(0.00605,-0.00605)" fill="#000" stroke="#000" stroke-width="41.3"/>
<text x="162.16" y="36.50" font-size="7.3" font-style="italic" style="stroke-width:0.12px">LysM/LysM</text>
</svg></div>
</body></html>
